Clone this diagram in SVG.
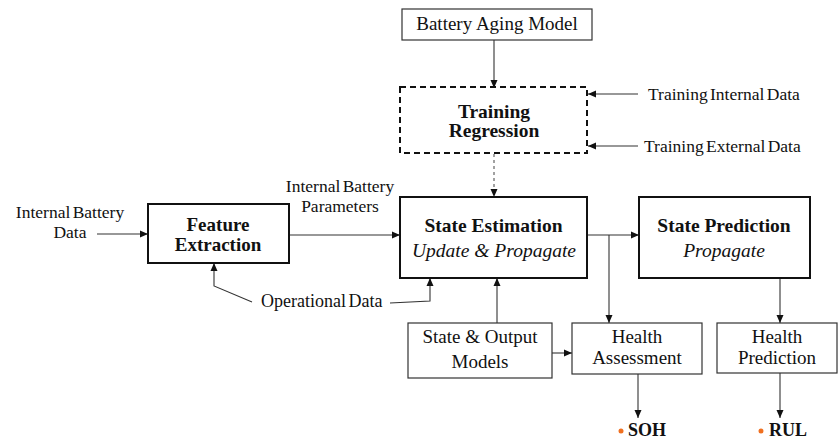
<svg xmlns="http://www.w3.org/2000/svg" width="838" height="439" viewBox="0 0 838 439">
<style>
text{font-family:"Liberation Serif","Times New Roman",serif;fill:#111}
.box{fill:#fff;stroke:#333;stroke-width:1.2}
.main{fill:#fff;stroke:#111;stroke-width:2}
.dash{fill:#fff;stroke:#111;stroke-width:2;stroke-dasharray:6,4}
.lbl{font-size:19px;text-anchor:middle}
.ttl{font-size:19.5px;font-weight:bold;text-anchor:middle}
.it{font-size:19.5px;font-style:italic;text-anchor:middle}
.ext{font-size:17.5px;word-spacing:-2px}
.c{fill:none;stroke:#333;stroke-width:1.1}
.cd{fill:none;stroke:#555;stroke-width:1.1;stroke-dasharray:3,3}
.res{font-size:18px;font-weight:bold}
</style>
<defs>
<marker id="ah" markerUnits="userSpaceOnUse" markerWidth="9" markerHeight="8" refX="8" refY="4" orient="auto">
<path d="M0,0.5 L8,4 L0,7.5 z" fill="#111"/>
</marker>
</defs>
<g id="connectors">
<path class="c" d="M494,40 V88" marker-end="url(#ah)"/>
<path class="c" d="M638,94 H588" marker-end="url(#ah)"/>
<path class="c" d="M638,146 H588" marker-end="url(#ah)"/>
<path class="cd" d="M494,154 V197" marker-end="url(#ah)"/>
<path class="c" d="M97,234 H148" marker-end="url(#ah)"/>
<path class="c" d="M289,235 H400" marker-end="url(#ah)"/>
<path class="c" d="M587,235 H639" marker-end="url(#ah)"/>
<path class="c" d="M609,235 V323" marker-end="url(#ah)"/>
<path class="c" d="M780,278 V323" marker-end="url(#ah)"/>
<path class="c" d="M497,323 V278" marker-end="url(#ah)"/>
<path class="c" d="M552,353 H572" marker-end="url(#ah)"/>
<path class="c" d="M638,374 V418" marker-end="url(#ah)"/>
<path class="c" d="M780,373 V418" marker-end="url(#ah)"/>
<path class="c" d="M252,302 L214,286 V263" marker-end="url(#ah)"/>
<path class="c" d="M390,303 L430,301 V278" marker-end="url(#ah)"/>
</g>
<g id="battery-aging-model">
<rect class="box" x="402" y="9" width="190" height="31"/>
<text class="lbl" x="497" y="30">Battery Aging Model</text>
</g>
<g id="training-regression">
<rect class="dash" x="400" y="87" width="187" height="66"/>
<text class="ttl" x="494" y="118">Training</text>
<text class="ttl" x="494" y="137">Regression</text>
</g>
<g id="training-internal-data">
<text class="ext" x="648" y="100">Training Internal Data</text>
</g>
<g id="training-external-data">
<text class="ext" x="644" y="152">Training External Data</text>
</g>
<g id="internal-battery-data">
<text class="ext" x="70" y="218" text-anchor="middle">Internal Battery</text>
<text class="ext" x="70" y="238" text-anchor="middle">Data</text>
</g>
<g id="feature-extraction">
<rect class="main" x="148" y="204" width="141" height="59"/>
<text class="ttl" x="218" y="231" style="font-size:19px">Feature</text>
<text class="ttl" x="218" y="251" style="font-size:19px">Extraction</text>
</g>
<g id="internal-battery-parameters">
<text class="ext" x="340" y="192" text-anchor="middle">Internal Battery</text>
<text class="ext" x="340" y="212" text-anchor="middle">Parameters</text>
</g>
<g id="state-estimation">
<rect class="main" x="400" y="197" width="187" height="81"/>
<text class="ttl" x="493.5" y="232">State Estimation</text>
<text class="it" x="494" y="257">Update &amp; Propagate</text>
</g>
<g id="state-prediction">
<rect class="main" x="639" y="197" width="171" height="81"/>
<text class="ttl" x="724" y="232">State Prediction</text>
<text class="it" x="724" y="257">Propagate</text>
</g>
<g id="operational-data">
<text class="ext" x="261" y="307" style="font-size:18px">Operational Data</text>
</g>
<g id="state-output-models">
<rect class="box" x="408" y="323" width="144" height="55"/>
<text class="lbl" x="480" y="343">State &amp; Output</text>
<text class="lbl" x="480" y="368">Models</text>
</g>
<g id="health-assessment">
<rect class="box" x="572" y="323" width="130" height="51"/>
<text class="lbl" x="637" y="343">Health</text>
<text class="lbl" x="637" y="364">Assessment</text>
</g>
<g id="health-prediction">
<rect class="box" x="717" y="323" width="120" height="50"/>
<text class="lbl" x="777" y="343">Health</text>
<text class="lbl" x="777" y="364">Prediction</text>
</g>
<g id="soh">
<circle cx="621" cy="431" r="2.5" fill="#f07020"/>
<text class="res" x="628" y="436">SOH</text>
</g>
<g id="rul">
<circle cx="761" cy="431" r="2.5" fill="#f07020"/>
<text class="res" x="769" y="436">RUL</text>
</g>
</svg>
